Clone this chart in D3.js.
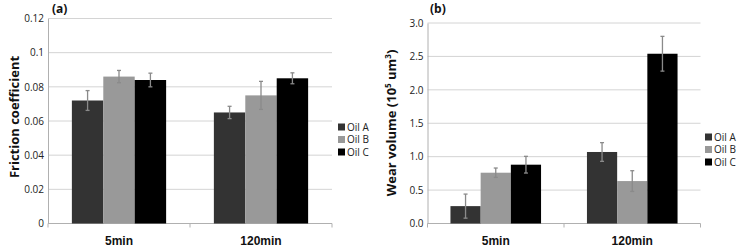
<!DOCTYPE html>
<html>
<head>
<meta charset="utf-8">
<script src="https://cdn.jsdelivr.net/npm/d3@7"></script>
<style>
  body { margin: 0; background: #fff; }
  svg { display: block; font-family: "Open Sans", sans-serif; }
</style>
</head>
<body>
<svg width="738" height="246"></svg>
<script>
// categories and series
var categories = ["5min", "120min"];
var series = ["Oil A", "Oil B", "Oil C"];
var colors = ["#333333", "#999999", "#000000"];

// (a) friction coefficient, per series, per category
var frictionA = [0.072, 0.065];
var frictionB = [0.086, 0.075];
var frictionC = [0.084, 0.085];
var frictionErrA = [0.0058, 0.0036];
var frictionErrB = [0.0036, 0.0082];
var frictionErrC = [0.004, 0.0032];
var frictionTicks = [0, 0.02, 0.04, 0.06, 0.08, 0.1, 0.12];

// (b) wear volume (10^5 um^3)
var wearA = [0.26, 1.07];
var wearB = [0.76, 0.635];
var wearC = [0.88, 2.54];
var wearErrA = [0.18, 0.14];
var wearErrB = [0.07, 0.155];
var wearErrC = [0.125, 0.26];
var wearTicks = [0, 0.5, 1.0, 1.5, 2.0, 2.5, 3.0];

var svg = d3.select("svg");

function drawPanel(p) {
	var g = svg.append("g");

	var x0 = d3.scaleBand().domain(categories).range([p.left, p.right]);
	var x1 = d3.scaleBand().domain(series).range([0, x0.bandwidth()]).paddingOuter(0.76);
	var y = d3.scaleLinear().domain([0, p.max]).range([p.bottom, p.top]);

	// gridlines
	g.append("g").selectAll("line")
		.data(p.ticks.slice(1))
		.enter().append("line")
		.attr("x1", p.left).attr("x2", p.right)
		.attr("y1", d => y(d)).attr("y2", d => y(d))
		.attr("stroke", "#d4d4d4").attr("stroke-width", 1);

	// y axis
	var yAxis = g.append("g")
		.attr("transform", "translate(" + p.left + ",0)")
		.call(d3.axisLeft(y).tickValues(p.ticks).tickFormat(p.fmt).tickSize(0).tickPadding(4));
	yAxis.select(".domain").attr("stroke", "#b0b0b0");
	yAxis.selectAll("text").attr("font-size", 10).attr("fill", "#222").attr("font-family", "Open Sans");

	// x axis
	var xAxis = g.append("g")
		.attr("transform", "translate(0," + p.bottom + ")")
		.call(d3.axisBottom(x0).tickSize(0).tickFormat(""));
	xAxis.select(".domain").remove();
	xAxis.append("line").attr("x1", p.left).attr("x2", p.right)
		.attr("stroke", "#b0b0b0");
	xAxis.selectAll(".sep")
		.data([p.left, x0(categories[1]), p.right])
		.enter().append("line")
		.attr("x1", d => d).attr("x2", d => d)
		.attr("y1", 0).attr("y2", 4)
		.attr("stroke", "#b0b0b0");
	xAxis.selectAll(".lbl")
		.data(categories)
		.enter().append("text")
		.attr("x", d => x0(d) + x0.bandwidth() / 2)
		.attr("y", 21)
		.attr("text-anchor", "middle")
		.attr("font-size", 12).attr("font-weight", "bold").attr("fill", "#111")
		.text(d => d);

	// bars
	series.forEach(function(s, si) {
		var vals = p.values[si], errs = p.errors[si];
		var grp = g.append("g");
		grp.selectAll("rect")
			.data(categories)
			.enter().append("rect")
			.attr("x", d => x0(d) + x1(s))
			.attr("y", (d, i) => y(vals[i]))
			.attr("width", x1.bandwidth())
			.attr("height", (d, i) => y(0) - y(vals[i]))
			.attr("fill", colors[si]);

		// error bars
		categories.forEach(function(c, i) {
			var cx = x0(c) + x1(s) + x1.bandwidth() / 2;
			var e = grp.append("g").attr("stroke", "#8a8a8a").attr("stroke-width", 1.3);
			e.append("line").attr("x1", cx).attr("x2", cx)
				.attr("y1", y(vals[i] + errs[i])).attr("y2", y(vals[i] - errs[i]));
			[vals[i] + errs[i], vals[i] - errs[i]].forEach(function(v) {
				e.append("line").attr("x1", cx - 2).attr("x2", cx + 2)
					.attr("y1", y(v)).attr("y2", y(v));
			});
		});
	});

	// legend
	var lg = g.append("g");
	series.forEach(function(s, si) {
		var ly = p.legendY + si * 12.5;
		lg.append("rect").attr("x", p.legendX).attr("y", ly - 3.5)
			.attr("width", 7).attr("height", 7).attr("fill", colors[si]);
		lg.append("text").attr("x", p.legendX + 9).attr("y", ly + 3.5)
			.attr("font-size", 10).attr("fill", "#222").text(s);
	});

	// y title
	var t = g.append("text")
		.attr("transform", "translate(" + p.titleX + "," + p.titleY + ") rotate(-90)")
		.attr("text-anchor", "middle")
		.attr("font-size", 13).attr("font-weight", "bold").attr("fill", "#111");
	p.title(t);

	// panel label
	g.append("text").attr("x", p.labelX).attr("y", 13)
		.attr("font-size", 12).attr("font-weight", "bold").attr("fill", "#111")
		.text(p.label);
}

drawPanel({
	left: 48, right: 332, top: 18.5, bottom: 223.5, max: 0.12,
	ticks: frictionTicks, fmt: d => d3.format("")(+d.toFixed(2)),
	values: [frictionA, frictionB, frictionC],
	errors: [frictionErrA, frictionErrB, frictionErrC],
	legendX: 338, legendY: 127,
	titleX: 19, titleY: 117,
	title: t => t.text("Friction coefficient"),
	labelX: 52, label: "(a)"
});

drawPanel({
	left: 427.5, right: 700.5, top: 23, bottom: 223.5, max: 3.0,
	ticks: wearTicks, fmt: d3.format(".1f"),
	values: [wearA, wearB, wearC],
	errors: [wearErrA, wearErrB, wearErrC],
	legendX: 705, legendY: 137,
	titleX: 396, titleY: 123,
	title: function(t) {
		t.append("tspan").text("Wear volume (10");
		t.append("tspan").attr("font-size", 8).attr("dy", -5).text("5");
		t.append("tspan").attr("dy", 5).text(" um");
		t.append("tspan").attr("font-size", 8).attr("dy", -5).text("3");
		t.append("tspan").attr("dy", 5).text(")");
	},
	labelX: 430, label: "(b)"
});
</script>
</body>
</html>
